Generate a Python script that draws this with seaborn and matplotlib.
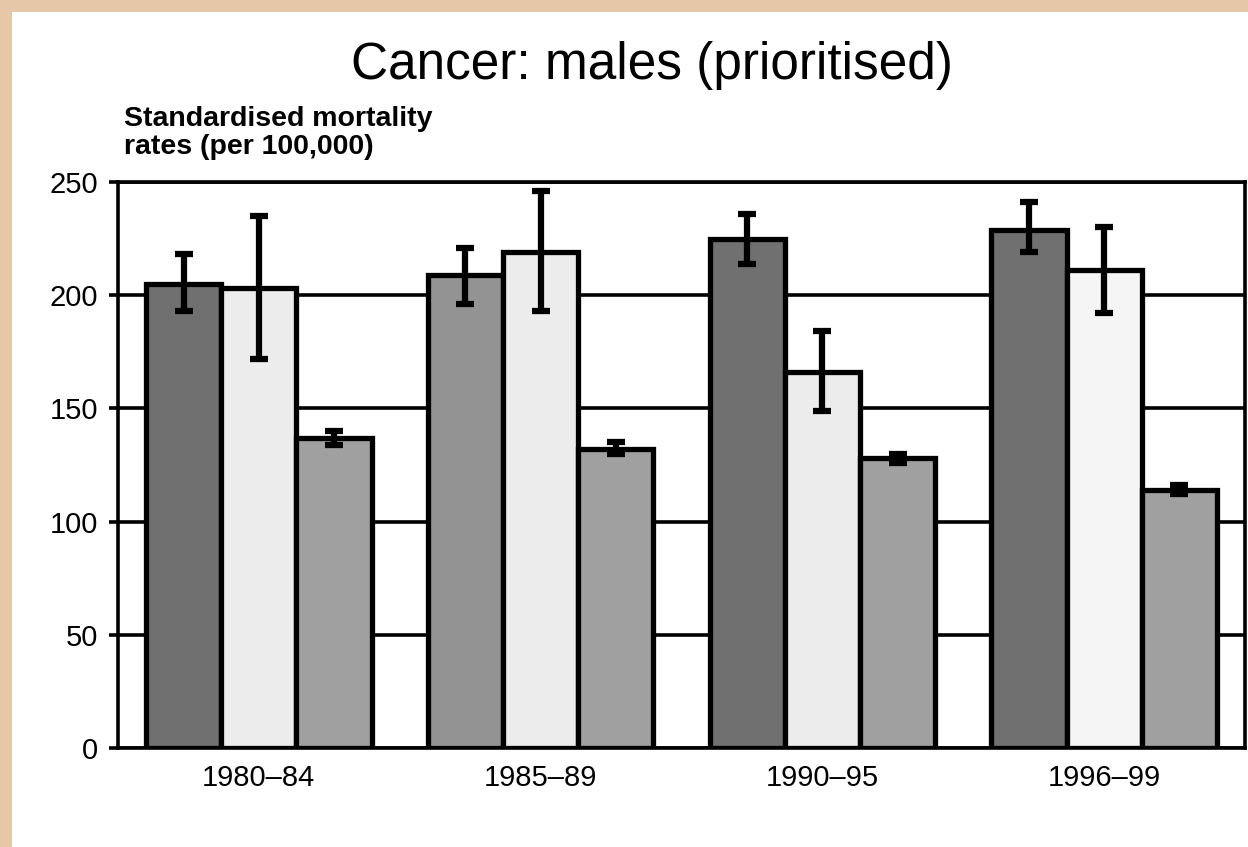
import pandas as pd
import seaborn as sns
import matplotlib.pyplot as plt
from matplotlib.patches import Rectangle

# Data
periods = ["1980\u201384", "1985\u201389", "1990\u201395", "1996\u201399"]
series = ["A", "B", "C"]
rate_a = [205, 209, 225, 229]
rate_b = [203, 219, 166, 211]
rate_c = [137, 132, 128, 114]
low_a = [193, 196, 214, 219]
high_a = [218, 221, 236, 241]
low_b = [172, 193, 149, 192]
high_b = [235, 246, 184, 230]
low_c = [134, 130, 126, 112]
high_c = [140, 135, 130, 116]

# bar fill colours, one row per series (slight shade differences in the original)
colours = [
    ["#707070", "#939393", "#707070", "#707070"],
    ["#ececec", "#ececec", "#ececec", "#f5f5f5"],
    ["#a0a0a0", "#a0a0a0", "#a0a0a0", "#a0a0a0"],
]

rows = []
for s, vals, lo, hi in zip(series, [rate_a, rate_b, rate_c],
                           [low_a, low_b, low_c], [high_a, high_b, high_c]):
    for p, v, l, h in zip(periods, vals, lo, hi):
        rows.append({"period": p, "series": s, "rate": v, "low": l, "high": h})
df = pd.DataFrame(rows)

sns.set_style("white")
plt.rcParams["font.family"] = ["Liberation Sans", "DejaVu Sans"]
plt.rcParams["text.color"] = "black"
plt.rcParams["xtick.color"] = "black"
plt.rcParams["ytick.color"] = "black"

fig = plt.figure(figsize=(12.48, 8.47), dpi=100, facecolor="#e6c8a9")
# white page with beige strip on left and top
fig.patches.append(Rectangle((12 / 1248, 0), 1, 1 - 12 / 847, transform=fig.transFigure,
                             facecolor="white", edgecolor="none", zorder=-1))
ax = fig.add_axes([118 / 1248, 99 / 847, 1127 / 1248, 566 / 847])

sns.barplot(data=df, x="period", y="rate", hue="series", order=periods,
            hue_order=series, palette=[c[0] for c in colours], errorbar=None,
            width=0.8, edgecolor="black", linewidth=3.8, legend=False, ax=ax, zorder=3)

# recolour bars and add error bars at the bar centres
bar_groups = list(ax.containers)
for i, cont in enumerate(bar_groups):
    sub = df[df["series"] == series[i]].set_index("period").loc[periods]
    xs = []
    for j, bar in enumerate(cont):
        bar.set_facecolor(colours[i][j])
        xs.append(bar.get_x() + bar.get_width() / 2)
    yerr = [sub["rate"] - sub["low"], sub["high"] - sub["rate"]]
    ax.errorbar(xs, sub["rate"], yerr=yerr, fmt="none", ecolor="black",
                elinewidth=4.5, capsize=6.5, capthick=4.5, zorder=5)

ax.set_xlim(-0.5, 3.5)
ax.set_ylim(0, 250)
ax.set_yticks([0, 50, 100, 150, 200, 250])
ax.yaxis.grid(True, color="black", linewidth=2.6)
ax.set_axisbelow(True)
for sp in ax.spines.values():
    sp.set_visible(True)
    sp.set_color("black")
    sp.set_linewidth(2.6)
ax.tick_params(axis="y", left=True, length=6.5, width=2.6, pad=8, labelsize=21)
ax.tick_params(axis="x", bottom=False, pad=8, labelsize=21)
ax.set_xlabel("")
ax.set_ylabel("")

fig.text(652 / 1248, 1 - 79 / 847, "Cancer: males (prioritised)", ha="center",
         va="baseline", fontsize=37)
fig.text(124 / 1248, 1 - 106 / 847, "Standardised mortality\nrates (per 100,000)",
         ha="left", va="top", fontsize=20.5, fontweight="bold", linespacing=1.12)

fig.savefig("out.png", dpi=100, facecolor=fig.get_facecolor())
